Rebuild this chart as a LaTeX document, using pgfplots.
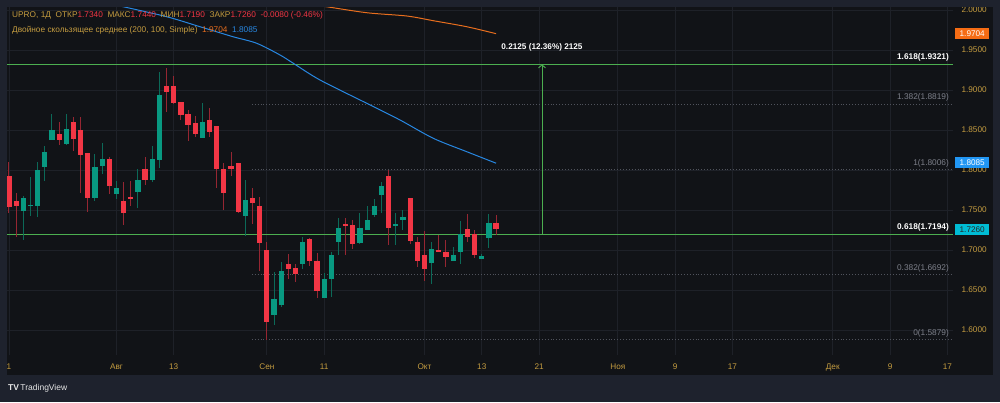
\documentclass[border=0pt]{standalone}
\usepackage{pgfplots}
\pgfplotsset{compat=1.18}
\usepackage{pgfplotstable}
\usepackage{fontspec}
\setmainfont{Liberation Sans}
\usetikzlibrary{arrows.meta}
\definecolor{bgc}{RGB}{17,19,23}
\definecolor{framec}{RGB}{30,34,45}
\definecolor{gridc}{RGB}{30,33,40}
\definecolor{goldc}{RGB}{196,156,64}
\definecolor{upbody}{RGB}{8,153,129}
\definecolor{dnbody}{RGB}{242,54,69}
\definecolor{upwick}{RGB}{12,105,88}
\definecolor{dnwick}{RGB}{150,38,50}
\definecolor{mablue}{RGB}{40,135,225}
\definecolor{maorange}{RGB}{232,110,30}
\definecolor{boxorange}{RGB}{245,108,20}
\definecolor{boxblue}{RGB}{33,150,243}
\definecolor{boxcyan}{RGB}{0,188,212}
\definecolor{fibgreen}{RGB}{76,175,80}
\definecolor{fibgray}{RGB}{80,83,92}
\definecolor{fibtext}{RGB}{125,128,138}

\pgfplotstableread{
i o h l c
0 1.7925 1.8104 1.7466 1.7541
1 1.7609 1.7713 1.7159 1.7550
2 1.7491 1.7675 1.7125 1.7646
3 1.7556 1.7916 1.7425 1.7563
4 1.7554 1.8096 1.7409 1.8000
5 1.8034 1.8300 1.7866 1.8221
6 1.8371 1.8700 1.8371 1.8500
7 1.8450 1.8600 1.8316 1.8379
8 1.8329 1.8700 1.8309 1.8513
9 1.8596 1.8663 1.8241 1.8391
10 1.8496 1.8663 1.7716 1.8188
11 1.8213 1.8213 1.7479 1.7654
12 1.7654 1.8196 1.7613 1.8038
13 1.8054 1.8338 1.7954 1.8141
14 1.8141 1.8166 1.7700 1.7804
15 1.7700 1.7859 1.7638 1.7775
16 1.7609 1.7850 1.7316 1.7466
17 1.7654 1.7859 1.7554 1.7646
18 1.7729 1.8016 1.7529 1.7875
19 1.8009 1.8166 1.7813 1.7875
20 1.7875 1.8300 1.7850 1.8134
21 1.8125 1.9225 1.8025 1.8938
22 1.9054 1.9279 1.8729 1.8975
23 1.9054 1.9175 1.8821 1.8838
24 1.8850 1.8850 1.8621 1.8691
25 1.8700 1.8750 1.8366 1.8559
26 1.8591 1.8675 1.8409 1.8454
27 1.8406 1.8834 1.8395 1.8600
28 1.8625 1.8771 1.8416 1.8479
29 1.8550 1.8550 1.7769 1.8016
30 1.8009 1.8085 1.7503 1.7709
31 1.8044 1.8229 1.7931 1.8009
32 1.8088 1.8088 1.7466 1.7475
33 1.7425 1.7875 1.7179 1.7619
34 1.7650 1.7775 1.7331 1.7591
35 1.7550 1.7659 1.6738 1.7090
36 1.7004 1.7100 1.5879 1.6104
37 1.6191 1.6729 1.6059 1.6388
38 1.6309 1.6854 1.6284 1.6738
39 1.6829 1.6950 1.6640 1.6765
40 1.6779 1.6829 1.6600 1.6696
41 1.6821 1.7159 1.6766 1.7100
42 1.7134 1.7144 1.6800 1.6863
43 1.6859 1.6963 1.6396 1.6491
44 1.6404 1.6713 1.6404 1.6638
45 1.6641 1.6975 1.6416 1.6938
46 1.7096 1.7396 1.6941 1.7275
47 1.7325 1.7396 1.6941 1.7309
48 1.7309 1.7375 1.7009 1.7079
49 1.7088 1.7459 1.7071 1.7271
50 1.7246 1.7554 1.7244 1.7375
51 1.7441 1.7634 1.7409 1.7554
52 1.7684 1.7846 1.7459 1.7796
53 1.7921 1.8000 1.7066 1.7275
54 1.7304 1.7459 1.7066 1.7321
55 1.7375 1.7496 1.7254 1.7413
56 1.7650 1.7656 1.7075 1.7109
57 1.7100 1.7163 1.6784 1.6866
58 1.6941 1.7238 1.6616 1.6763
59 1.6841 1.7096 1.6575 1.7009
60 1.7000 1.7191 1.6969 1.6975
61 1.6975 1.7120 1.6784 1.6916
62 1.6866 1.7034 1.6866 1.6934
63 1.6975 1.7363 1.6821 1.7200
64 1.7259 1.7450 1.7096 1.7166
65 1.7200 1.7246 1.6904 1.6938
66 1.6891 1.6946 1.6891 1.6925
67 1.7154 1.7450 1.7025 1.7341
68 1.7340 1.7440 1.7190 1.7260
}\ohlc

\pgfplotstableread{
i p
14.00 2.0080
15.50 2.0050
22.02 1.9916
26.66 1.9791
31.27 1.9666
34.58 1.9584
37.83 1.9438
39.69 1.9334
43.42 1.9125
49.94 1.8834
54.59 1.8625
59.24 1.8396
63.90 1.8229
68.00 1.8085
}\mablue

\pgfplotstableread{
i p
33.65 2.0113
42.02 2.0063
43.65 2.0050
49.94 1.9966
55.52 1.9925
59.24 1.9866
63.90 1.9791
68.00 1.9704
}\maorange

\pgfplotsset{candle/.style={draw=none, no markers, forget plot,
  error bars/y dir=both, error bars/y explicit, error bars/error mark=none}}

\begin{document}
\begin{tikzpicture}[x=1pt,y=1pt]
\fill[framec] (0,0) rectangle (1000,402);
\fill[bgc] (7,27) rectangle (993,395);
\useasboundingbox (0,0) rectangle (1000,402);
\begin{axis}[
  at={(7pt,47pt)}, anchor=south west, scale only axis,
  width=946pt, height=348pt,
  xmin=-0.279, xmax=131.79, ymin=1.56875, ymax=2.00375,
  axis line style={draw=none}, major tick length=0pt,
  xtick={0,15,23,36,44,58,66,74,85,93,101,115,123,131},
  xticklabels={1,Авг,13,Сен,11,Окт,13,21,Ноя,9,17,Дек,9,17},
  ytick={1.60,1.65,1.70,1.75,1.80,1.85,1.90,1.95,2.00},
  yticklabel pos=right,
  /pgf/number format/fixed, /pgf/number format/fixed zerofill,
  /pgf/number format/precision=4, /pgf/number format/assume math mode=true,
  tick label style={font=\fontsize{8.2}{9}\selectfont, text=goldc},
  xticklabel style={anchor=center, yshift=-12pt},
  yticklabel style={anchor=west, xshift=5pt},
  grid=major, major grid style={draw=gridc, line width=0.8pt},
  clip=true,
]
% fib levels
\addplot[fibgreen, line width=0.9pt, forget plot] coordinates {(-0.279,1.9321) (131.79,1.9321)};
\addplot[fibgreen, line width=0.9pt, forget plot] coordinates {(-0.279,1.7194) (131.79,1.7194)};
\addplot[fibgray, dotted, line width=0.9pt, forget plot] coordinates {(33.9,1.8819) (131.79,1.8819)};
\addplot[fibgray, dotted, line width=0.9pt, forget plot] coordinates {(33.9,1.8006) (131.79,1.8006)};
\addplot[fibgray, dotted, line width=0.9pt, forget plot] coordinates {(33.9,1.6692) (131.79,1.6692)};
\addplot[fibgray, dotted, line width=0.9pt, forget plot] coordinates {(33.9,1.5879) (131.79,1.5879)};
% moving averages
\addplot[maorange, line width=1pt, smooth, forget plot] table[x=i, y=p] {\maorange};
\addplot[mablue, line width=1pt, smooth, forget plot] table[x=i, y=p] {\mablue};
% wicks
\addplot[candle, restrict expr to domain={\thisrow{c}-\thisrow{o}}{0:1},
  error bars/error bar style={line width=1pt, draw=upwick}]
  table[x=i, y expr={(\thisrow{h}+\thisrow{l})/2}, y error expr={(\thisrow{h}-\thisrow{l})/2}] {\ohlc};
\addplot[candle, restrict expr to domain={\thisrow{c}-\thisrow{o}}{-1:-0.00001},
  error bars/error bar style={line width=1pt, draw=dnwick}]
  table[x=i, y expr={(\thisrow{h}+\thisrow{l})/2}, y error expr={(\thisrow{h}-\thisrow{l})/2}] {\ohlc};
% bodies
\addplot[candle, restrict expr to domain={\thisrow{c}-\thisrow{o}}{0:1},
  error bars/error bar style={line width=5.2pt, draw=upbody}]
  table[x=i, y expr={(\thisrow{o}+\thisrow{c})/2}, y error expr={max(abs(\thisrow{c}-\thisrow{o})/2,0.0007)}] {\ohlc};
\addplot[candle, restrict expr to domain={\thisrow{c}-\thisrow{o}}{-1:-0.00001},
  error bars/error bar style={line width=5.2pt, draw=dnbody}]
  table[x=i, y expr={(\thisrow{o}+\thisrow{c})/2}, y error expr={max(abs(\thisrow{c}-\thisrow{o})/2,0.0007)}] {\ohlc};
% measure arrow
\draw[fibgreen, line width=0.9pt, -{Straight Barb[length=3pt,width=7pt]}] (axis cs:74.41,1.7194) -- (axis cs:74.41,1.9321);
\node[text=white, font=\bfseries\fontsize{8.2}{9}\selectfont] at (axis cs:74.41,1.9536) {0.2125 (12.36\%) 2125};
% fib labels
\node[anchor=base east, inner sep=0, yshift=4.5pt, text=white, font=\bfseries\fontsize{8.3}{9}\selectfont] at (axis cs:131.23,1.9321) {1.618(1.9321)};
\node[anchor=base east, inner sep=0, yshift=4.5pt, text=fibtext, font=\fontsize{8.3}{9}\selectfont] at (axis cs:131.23,1.8819) {1.382(1.8819)};
\node[anchor=base east, inner sep=0, yshift=4.5pt, text=fibtext, font=\fontsize{8.3}{9}\selectfont] at (axis cs:131.23,1.8006) {1(1.8006)};
\node[anchor=base east, inner sep=0, yshift=4.5pt, text=white, font=\bfseries\fontsize{8.3}{9}\selectfont] at (axis cs:131.23,1.7194) {0.618(1.7194)};
\node[anchor=base east, inner sep=0, yshift=4.5pt, text=fibtext, font=\fontsize{8.3}{9}\selectfont] at (axis cs:131.23,1.6692) {0.382(1.6692)};
\node[anchor=base east, inner sep=0, yshift=4.5pt, text=fibtext, font=\fontsize{8.3}{9}\selectfont] at (axis cs:131.23,1.5879) {0(1.5879)};
\end{axis}
% top frame strip drawn over the cut-off top label
\fill[framec] (0,395) rectangle (1000,402);
% price boxes on the scale
\node[anchor=west, fill=boxorange, text=white, inner sep=0, minimum width=34pt, minimum height=11pt, font=\fontsize{8.2}{9}\selectfont] at (955,402-33.7) {1.9704};
\node[anchor=west, fill=boxblue, text=white, inner sep=0, minimum width=34pt, minimum height=11pt, font=\fontsize{8.2}{9}\selectfont] at (955,402-162.8) {1.8085};
\node[anchor=west, fill=boxcyan, text=black!85, inner sep=0, minimum width=34pt, minimum height=11pt, font=\fontsize{8.2}{9}\selectfont] at (955,402-229.2) {1.7260};
% legend
\node[anchor=west, inner sep=0, font=\fontsize{8.3}{10}\selectfont] at (12,387) {\textcolor{goldc}{UPRO, 1Д\ \ ОТКР}\textcolor{dnbody}{1.7340}\ \ \textcolor{goldc}{МАКС}\textcolor{dnbody}{1.7440}\ \ \textcolor{goldc}{МИН}\textcolor{dnbody}{1.7190}\ \ \textcolor{goldc}{ЗАКР}\textcolor{dnbody}{1.7260}\ \ \textcolor{dnbody}{-0.0080 (-0.46\%)}};
\node[anchor=west, inner sep=0, font=\fontsize{8.3}{10}\selectfont] at (12,372) {\textcolor{goldc}{Двойное скользящее среднее (200, 100, Simple)}\ \ \textcolor{maorange}{1.9704}\ \ \textcolor{mablue}{1.8085}};
% TradingView mark
\node[anchor=west, inner sep=0, text=white!90!black, font=\fontsize{8.5}{9}\selectfont] at (8,14) {\textbf{TV}\,TradingView};
\end{tikzpicture}
\end{document}
